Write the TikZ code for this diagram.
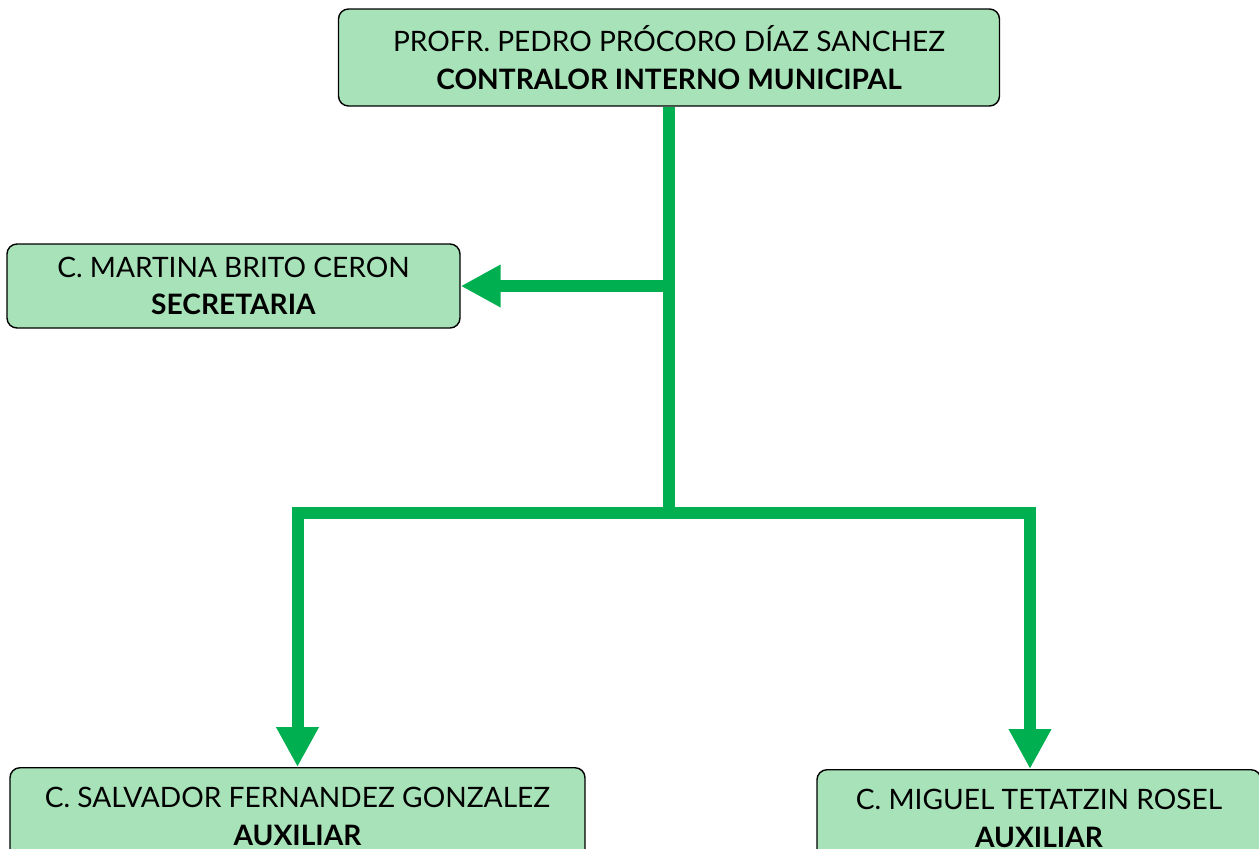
\documentclass[tikz,border=0pt]{standalone}
\usepackage{fontspec}
\setmainfont{Lato}
\usetikzlibrary{arrows.meta}
\definecolor{orggreen}{RGB}{0,176,80}
\definecolor{boxfill}{RGB}{168,226,184}
\tikzset{
    puesto/.style={draw=black, line width=0.8pt, fill=boxfill, rounded corners=0.2cm,
        align=center, font=\fontsize{16}{21.5}\selectfont, inner sep=0pt},
    linea/.style={draw=orggreen, line width=0.24cm},
    flecha/.style={linea, -{Triangle[width=0.8cm, length=0.8cm]}}
}
\begin{document}
\begin{tikzpicture}
    \useasboundingbox (0, 0) rectangle (25.18, -16.96);

    \node[puesto, minimum width=13.22cm, minimum height=1.94cm] (contralor) at (13.38, -1.15)
        {PROFR. PEDRO PRÓCORO DÍAZ SANCHEZ\\ \textbf{CONTRALOR INTERNO MUNICIPAL}};
    \node[puesto, minimum width=9.06cm, minimum height=1.68cm] (secretaria) at (4.67, -5.72)
        {C. MARTINA BRITO CERON\\ \textbf{SECRETARIA}};
    \node[puesto, anchor=north, minimum width=11.5cm, minimum height=1.94cm] (auxiliar1) at (5.95, -15.34)
        {C. SALVADOR FERNANDEZ GONZALEZ\\ \textbf{AUXILIAR}};
    \node[puesto, anchor=north, minimum width=8.88cm, minimum height=1.94cm] (auxiliar2) at (20.78, -15.38)
        {C. MIGUEL TETATZIN ROSEL\\ \textbf{AUXILIAR}};

    \coordinate (rama) at (contralor.south |- 0, -10.26);
    \coordinate (rama der) at (20.6, -10.26);

    % tronco y ramas
    \draw[linea] (contralor.south) -- (rama);
    \draw[flecha] (secretaria.east -| contralor.south) -- (secretaria.east);
    \draw[flecha] (rama) -| (auxiliar1.north);
    \draw[flecha] (rama) -- (rama der) -- (rama der |- auxiliar2.north);
\end{tikzpicture}
\end{document}
